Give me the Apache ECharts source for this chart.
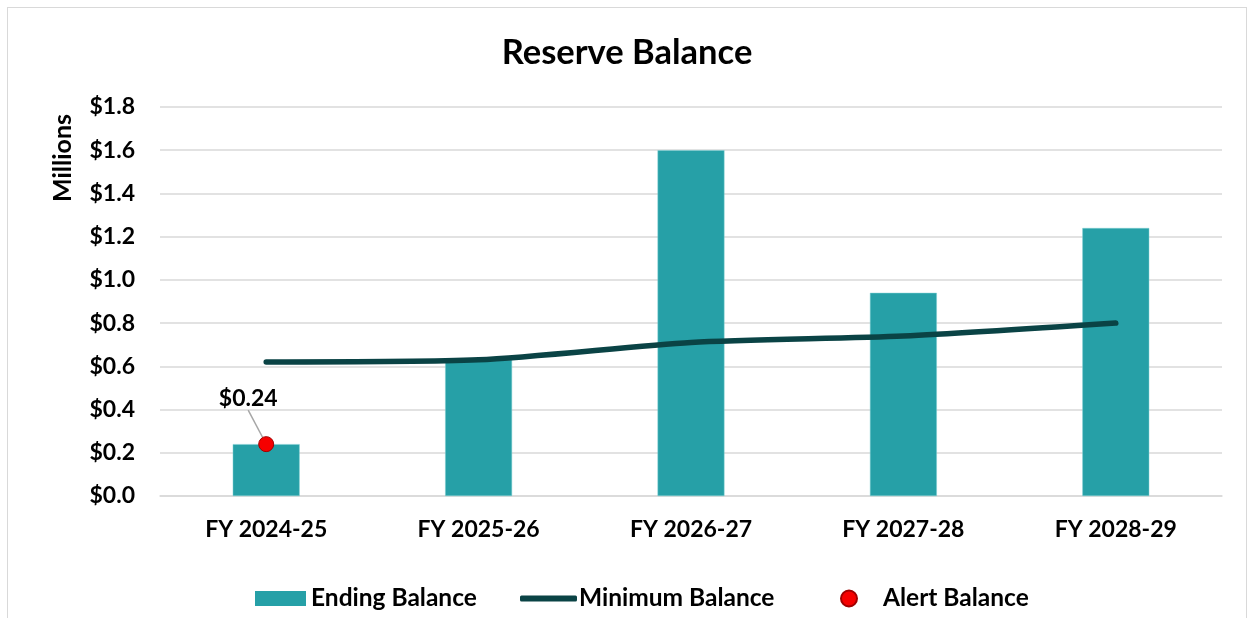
<!DOCTYPE html>
<html>
<head>
<meta charset="utf-8">
<script src="https://cdn.jsdelivr.net/npm/echarts@6/dist/echarts.min.js"></script>
<style>
  html, body { margin: 0; padding: 0; background: #fff; }
  #frame { position: absolute; left: 7px; top: 7px; width: 1240px; height: 620px; border: 1.5px solid #d9d9d9; box-sizing: border-box; }
  #chart { width: 1254px; height: 618px; position: absolute; left: 0; top: 0; }
</style>
</head>
<body>
<div id="frame"></div>
<div id="chart"></div>
<script>
const categories = ['FY 2024-25', 'FY 2025-26', 'FY 2026-27', 'FY 2027-28', 'FY 2028-29']
const endingBalance = [0.24, 0.63, 1.60, 0.94, 1.24]
const minimumBalance = [0.62, 0.63, 0.71, 0.74, 0.80]
const alertBalance = [0.24, null, null, null, null]

const font = 'Lato, "Liberation Sans", sans-serif'
const labelFont = { fontFamily: font, fontSize: 23, fontWeight: 'bold', color: '#000' }
const legendText = { fontFamily: font, fontSize: 24.5, fontWeight: 'bold', color: '#000' }

const alertLabel = {
  show: true,
  position: 'top',
  distance: 4,
  formatter: p => '{v|$' + p.value.toFixed(2) + '}',
  rich: { v: { ...labelFont, fontWeight: 700, textBorderWidth: 0 } },
  ...labelFont,
  textBorderWidth: 0,
}

const chart = echarts.init(document.getElementById('chart'))
chart.setOption({
  animation: false,
  title: {
    text: 'Reserve Balance',
    left: 'center',
    top: 30,
    textStyle: { fontFamily: font, fontSize: 34.5, fontWeight: 'bold', color: '#000' },
  },
  grid: { left: 160, right: 32, top: 107, bottom: 122 },
  legend: [
    {
      left: 255, top: 586, padding: 0,
      itemWidth: 51, itemHeight: 15,
      itemStyle: { borderWidth: 0 },
      textStyle: legendText,
      data: [{ name: 'Ending Balance', icon: 'rect' }],
    },
    {
      left: 520, top: 586, padding: 0,
      itemWidth: 57, itemHeight: 6,
      textStyle: { ...legendText, padding: [0, 0, 0, -3] },
      data: [{ name: 'Minimum Balance', icon: 'roundRect' }],
    },
    {
      left: 840, top: 586, padding: 0,
      itemWidth: 16, itemHeight: 16,
      textStyle: { ...legendText, padding: [0, 0, 0, 21] },
      data: [{ name: 'Alert Balance', icon: 'circle' }],
    },
  ],
  graphic: [{
    type: 'text',
    x: 63,
    y: 158,
    rotation: Math.PI / 2,
    style: { text: 'Millions', fill: '#000', font: 'bold 25px ' + font, align: 'center', verticalAlign: 'middle' },
  }],
  xAxis: {
    type: 'category',
    data: categories,
    axisLine: { lineStyle: { color: '#d9d9d9', width: 1.5 } },
    axisTick: { show: false },
    axisLabel: { ...labelFont, margin: 22 },
  },
  yAxis: {
    type: 'value',
    min: 0,
    max: 1.8,
    interval: 0.2,
    axisLine: { show: false },
    axisTick: { show: false },
    splitLine: { lineStyle: { color: '#d9d9d9', width: 1.5 } },
    axisLabel: {
      ...labelFont, margin: 25,
      formatter: v => '$' + v.toFixed(1),
    },
  },
  series: [
    {
      name: 'Ending Balance',
      type: 'bar',
      data: endingBalance,
      barWidth: '31.5%',
      itemStyle: { color: '#26a0a7', borderColor: '#7fcfd3', borderWidth: 0.5 },
    },
    {
      name: 'Minimum Balance',
      type: 'line',
      data: minimumBalance,
      smooth: 0.25,
      symbol: 'none',
      lineStyle: { color: '#0a4345', width: 5.5, cap: 'round' },
      itemStyle: { color: '#0a4345' },
    },
    {
      name: 'Alert Balance',
      type: 'scatter',
      data: alertBalance.map(v => (v == null ? null : { value: v, label: alertLabel })),
      symbolSize: 15,
      itemStyle: { color: '#f60000', borderColor: '#a00000', borderWidth: 1, opacity: 1 },
      label: alertLabel,
      labelLayout: { dx: -18, dy: -22 },
      labelLine: { show: true, lineStyle: { color: '#a6a6a6', width: 1.5 } },
      z: 5,
    },
  ],
})
</script>
</body>
</html>
